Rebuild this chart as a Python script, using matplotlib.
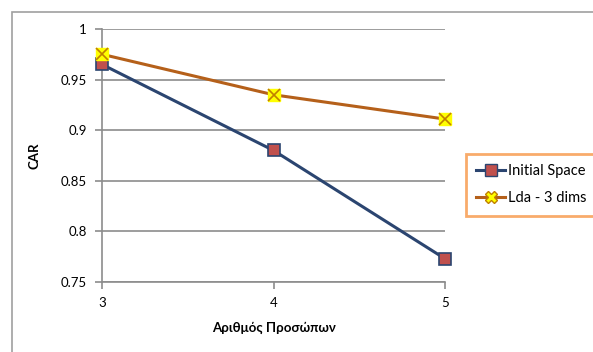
import matplotlib
matplotlib.use("Agg")
import matplotlib.pyplot as plt
from matplotlib.patches import Rectangle
from matplotlib.lines import Line2D

plt.rcParams['font.family'] = ['Lato', 'Open Sans', 'DejaVu Sans']

# data
faces = [3, 4, 5]
initial_space = [0.965, 0.880, 0.773]
lda_3dims = [0.975, 0.935, 0.911]
series_names = ['Initial Space', 'Lda - 3 dims']
y_ticks = [0.75, 0.8, 0.85, 0.9, 0.95, 1]
y_labels = ['0.75', '0.8', '0.85', '0.9', '0.95', '1']

blue = '#2b4570'
red = '#c0504d'
brown = '#b5601a'
yellow = '#ffff00'
grid = '#8c8c8c'

fig = plt.figure(figsize=(5.93, 3.52), dpi=100)
# outer chart frame (cropped on right/bottom like the original)
fig.patches.append(Rectangle((12/593, -0.1), 1.2, 1 - 12/352 + 0.1,
                             transform=fig.transFigure, fill=False,
                             edgecolor='#a0a0a0', linewidth=1.2))

ax = fig.add_axes([102/593, 1 - 282/352, 343/593, 253/352])

ax.plot(faces, initial_space, color=blue, linewidth=2.2, marker='s',
        markersize=8, markerfacecolor=red, markeredgecolor=blue,
        markeredgewidth=1.2, zorder=3, clip_on=False)
ax.plot(faces, lda_3dims, color=brown, linewidth=2.2, zorder=3, clip_on=False)
ax.plot(faces, lda_3dims, linestyle='none', marker='s', markersize=8,
        markerfacecolor=yellow, markeredgecolor=yellow, zorder=4, clip_on=False)
ax.plot(faces, lda_3dims, linestyle='none', marker='x', markersize=8,
        markeredgecolor='#c08000', markeredgewidth=1.2, zorder=5, clip_on=False)

ax.set_xlim(3, 5)
ax.set_ylim(0.75, 1)
ax.set_xticks(faces)
ax.set_yticks(y_ticks)
ax.set_yticklabels(y_labels)
ax.yaxis.grid(True, color=grid, linewidth=1.2)
ax.set_axisbelow(True)
for s in ['top', 'right']:
    ax.spines[s].set_visible(False)
for s in ['left', 'bottom']:
    ax.spines[s].set_color(grid)
    ax.spines[s].set_linewidth(1.2)
ax.tick_params(axis='both', color=grid, width=1.2, length=5, labelsize=9.5,
               pad=6)
ax.set_xlabel('Αριθμός Προσώπων', fontsize=9.5, fontweight='bold', labelpad=9)
ax.set_ylabel('CAR', fontsize=9.5, fontweight='bold')
ax.yaxis.set_label_coords(-0.18, 0.5)

handles = [
    Line2D([], [], color=blue, linewidth=2.2, marker='s', markersize=8,
           markerfacecolor=red, markeredgecolor=blue),
    Line2D([], [], color=brown, linewidth=2.2, marker='X', markersize=9,
           markerfacecolor=yellow, markeredgecolor='#c08000'),
]
leg = fig.legend(handles, series_names, loc='upper left',
                 bbox_to_anchor=(466/593, 1 - 154/352), fontsize=10.5,
                 frameon=True, fancybox=False, borderpad=0.7,
                 borderaxespad=0, handlelength=2.0, handletextpad=0.15,
                 labelspacing=0.9)
leg.get_frame().set_edgecolor('#f79646')
leg.get_frame().set_linewidth(2)

fig.savefig('out.png', dpi=100)
